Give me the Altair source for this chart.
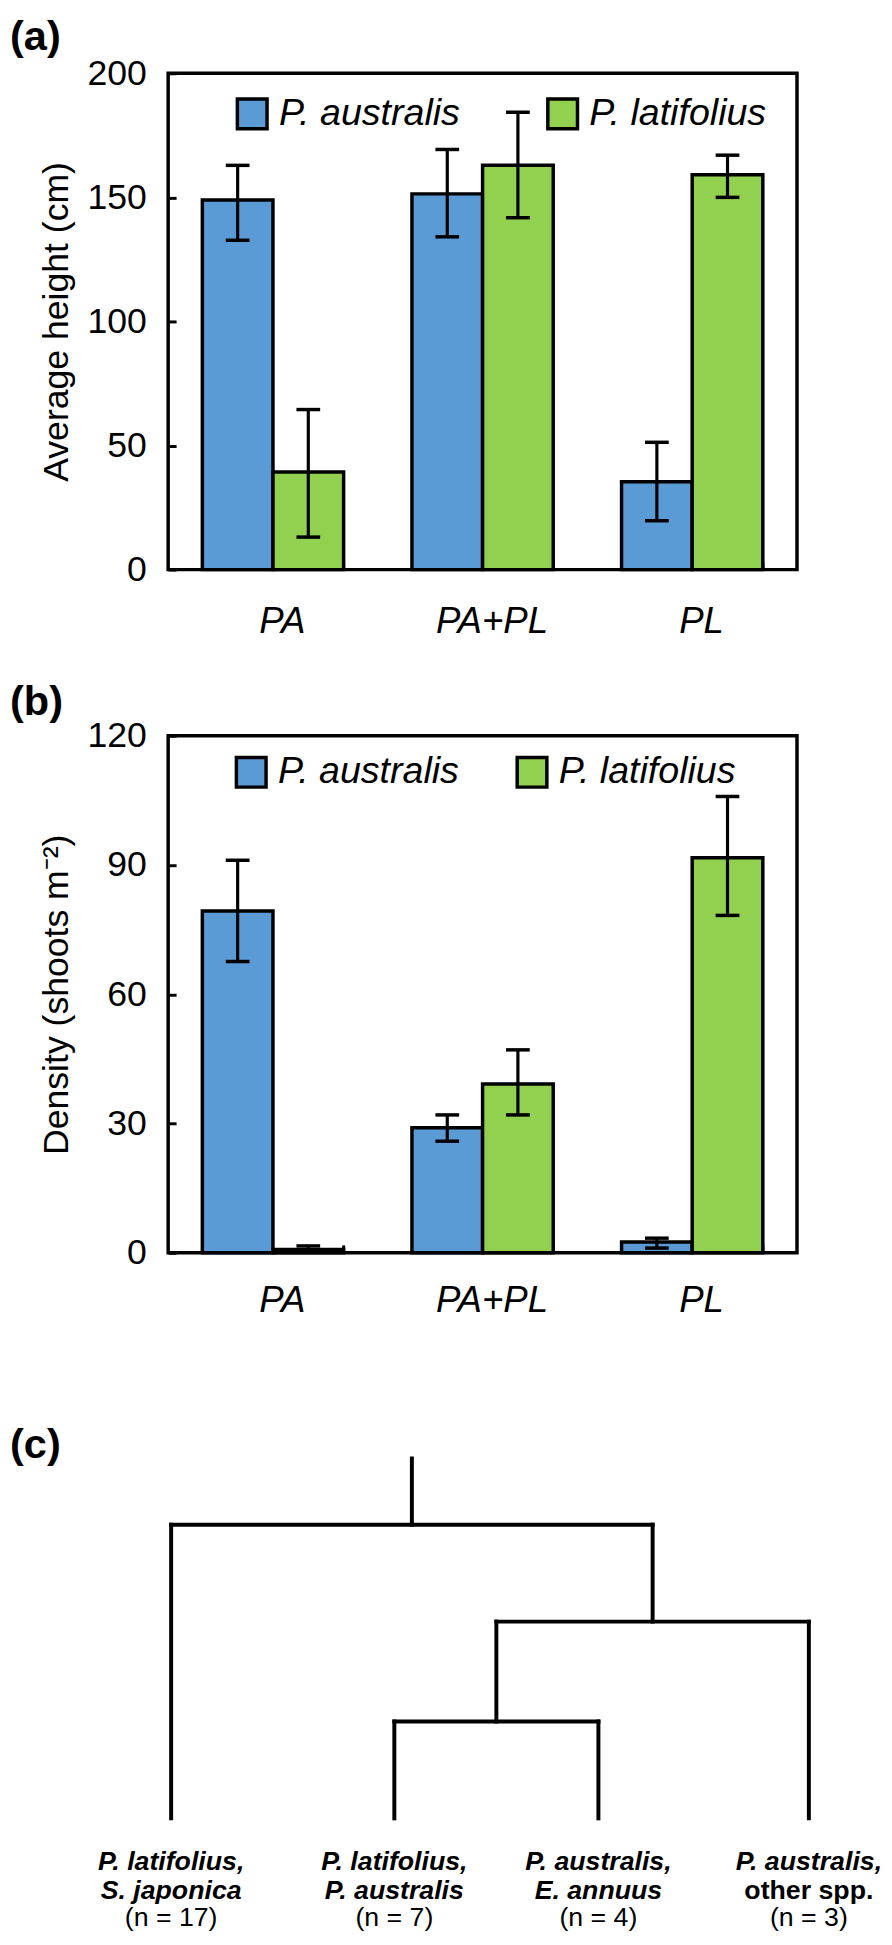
import altair as alt
import pandas as pd

FONT = "Liberation Sans"
BLUE = "#5B9BD5"
GREEN = "#92D050"

categories = ["PA", "PA+PL", "PL"]
species = ["P. australis", "P. latifolius"]

# (a) average height (cm): mean, lower and upper end of error bar
height_australis = [148.9, 151.4, 35.4]
height_australis_lo = [132.7, 134.1, 19.7]
height_australis_hi = [162.9, 169.3, 51.3]
height_latifolius = [39.3, 162.9, 159.1]
height_latifolius_lo = [13.1, 141.8, 150.0]
height_latifolius_hi = [64.5, 184.3, 167.0]

# (b) density (shoots m-2)
density_australis = [79.3, 29.0, 2.5]
density_australis_lo = [67.6, 25.9, 1.1]
density_australis_hi = [91.1, 32.0, 3.4]
density_latifolius = [0.8, 39.2, 91.7]
density_latifolius_lo = [0.2, 32.0, 78.3]
density_latifolius_hi = [1.6, 47.1, 105.9]

# (c) dendrogram
leaf_pos = [0.0, 1.05, 2.01, 3.0]
leaf_line1 = ["P. latifolius,", "P. latifolius,", "P. australis,", "P. australis,"]
leaf_line2 = ["S. japonica", "P. australis", "E. annuus", "other spp."]
leaf_line2_italic = [True, True, True, False]
leaf_n = ["(n = 17)", "(n = 7)", "(n = 4)", "(n = 3)"]
# merges: (node a, node b, height); leaves are nodes 0-3, merges become nodes 4, 5, 6
merges = [(1, 2, 0.98), (4, 3, 1.99), (0, 5, 2.97)]
root_top = 3.64


def bar_panel(mean_a, lo_a, hi_a, mean_l, lo_l, hi_l, ydomain, yvalues, ytitle,
              ptitle, toffset, legx, legy, colpad, xlabpad, width, height):
    rows = []
    for i, c in enumerate(categories):
        rows.append(dict(category=c, species=species[0], mean=mean_a[i], lo=lo_a[i], hi=hi_a[i]))
        rows.append(dict(category=c, species=species[1], mean=mean_l[i], lo=lo_l[i], hi=hi_l[i]))
    df = pd.DataFrame(rows)

    xaxis = alt.Axis(title=None, labelFontSize=37, labelFontStyle="italic", labelAngle=0,
                     labelColor="black", labelFont=FONT, tickBand="extent", tickSize=8,
                     tickWidth=3, tickColor="black", offset=-8, domain=False,
                     labelPadding=xlabpad, labelOffset=9)
    yaxis = alt.Axis(values=yvalues, labelFontSize=36, labelFont=FONT, labelColor="black",
                     tickColor="black", tickWidth=3, tickSize=8, offset=-8, domain=False,
                     labelPadding=22, grid=False, titleFontSize=36, titleFontWeight="normal",
                     titleFont=FONT, titleColor="black", titlePadding=12)
    x = alt.X("category:N", sort=categories,
              scale=alt.Scale(domain=categories, paddingInner=0.326, paddingOuter=0.163),
              axis=xaxis)
    xo = alt.XOffset("species:N", sort=species, scale=alt.Scale(domain=species))
    yscale = alt.Scale(domain=ydomain, nice=False)

    base = alt.Chart(df)
    bars = base.mark_bar(stroke="black", strokeWidth=3.5).encode(
        x=x, xOffset=xo,
        y=alt.Y("mean:Q", scale=yscale, axis=yaxis, title=ytitle),
        color=alt.Color("species:N", sort=species,
                        scale=alt.Scale(domain=species, range=[BLUE, GREEN]),
                        legend=alt.Legend(orient="none", legendX=legx, legendY=legy,
                                          direction="horizontal", title=None,
                                          symbolType="square", symbolSize=900,
                                          symbolStrokeWidth=3.5, symbolStrokeColor="black",
                                          symbolOpacity=1, labelFontSize=38,
                                          labelFontStyle="italic", labelFont=FONT,
                                          labelColor="black", columnPadding=colpad,
                                          labelOffset=8, padding=0, labelLimit=500)),
    )
    rules = base.mark_rule(color="black", strokeWidth=3.2).encode(
        x=x, xOffset=xo, y=alt.Y("lo:Q", scale=yscale, title=ytitle), y2="hi:Q")
    caps_hi = base.mark_tick(color="black", size=24, thickness=3.5, opacity=1).encode(
        x=x, xOffset=xo, y=alt.Y("hi:Q", scale=yscale, title=ytitle))
    caps_lo = base.mark_tick(color="black", size=24, thickness=3.5, opacity=1).encode(
        x=x, xOffset=xo, y=alt.Y("lo:Q", scale=yscale, title=ytitle))
    return alt.layer(bars, rules, caps_hi, caps_lo).properties(
        width=width, height=height,
        title=alt.TitleParams(ptitle, anchor="start", frame="group", dx=-160,
                              offset=toffset, fontSize=42, fontWeight="bold",
                              font=FONT, color="black"),
    )


panel_a = bar_panel(height_australis, height_australis_lo, height_australis_hi,
                    height_latifolius, height_latifolius_lo, height_latifolius_hi,
                    [0, 200], [0, 50, 100, 150, 200], "Average height (cm)",
                    "(a)", -3, 66, 22, 81, 35, 636, 502)
panel_b = bar_panel(density_australis, density_australis_lo, density_australis_hi,
                    density_latifolius, density_latifolius_lo, density_latifolius_hi,
                    [0, 120], [0, 30, 60, 90, 120], "Density (shoots m\u207b\u00b2)",
                    "(b)", -6, 65, 18, 51, 30, 636, 523)

# dendrogram segments
node_x = list(leaf_pos)
node_h = [0.0] * len(leaf_pos)
segs = []
for a, b, h in merges:
    xa, xb = node_x[a], node_x[b]
    segs.append(dict(x=xa, x2=xa, y=node_h[a], y2=h))
    segs.append(dict(x=xb, x2=xb, y=node_h[b], y2=h))
    segs.append(dict(x=xa, x2=xb, y=h, y2=h))
    node_x.append((xa + xb) / 2)
    node_h.append(h)
segs.append(dict(x=node_x[-1], x2=node_x[-1], y=node_h[-1], y2=root_top))
seg_df = pd.DataFrame(segs)

leaf_df = pd.DataFrame(dict(x=leaf_pos, y=[0.0] * 4, line1=leaf_line1, line2=leaf_line2,
                            italic=leaf_line2_italic, n=leaf_n))

C_H = 464
xs = alt.Scale(domain=[0, 3], range=[3, 648])
ys = alt.Scale(domain=[0, C_H / 100])

tree = alt.Chart(seg_df).mark_rule(color="black", strokeWidth=4, strokeCap="square").encode(
    x=alt.X("x:Q", scale=xs, axis=None), x2="x2:Q",
    y=alt.Y("y:Q", scale=ys, axis=None), y2="y2:Q")
lab_base = alt.Chart(leaf_df)
enc = dict(x=alt.X("x:Q", scale=xs, axis=None), y=alt.Y("y:Q", scale=ys, axis=None))
t1 = lab_base.mark_text(fontSize=27, fontWeight="bold", fontStyle="italic", font=FONT,
                        baseline="alphabetic", align="center", dy=52, color="black").encode(
    text="line1:N", **enc)
t2i = lab_base.transform_filter("datum.italic").mark_text(
    fontSize=27, fontWeight="bold", fontStyle="italic", font=FONT, baseline="alphabetic",
    align="center", dy=82, color="black").encode(text="line2:N", **enc)
t2n = lab_base.transform_filter("!datum.italic").mark_text(
    fontSize=27, fontWeight="bold", font=FONT, baseline="alphabetic",
    align="center", dy=82, color="black").encode(text="line2:N", **enc)
t3 = lab_base.mark_text(fontSize=27, font=FONT, baseline="alphabetic", align="center",
                        dy=109, color="black").encode(text="n:N", **enc)

panel_c = alt.layer(tree, t1, t2i, t2n, t3).properties(
    width=652, height=C_H,
    view=alt.ViewBackground(stroke="transparent"),
    title=alt.TitleParams("(c)", anchor="start", frame="group", dx=-160, offset=-109,
                          fontSize=42, fontWeight="bold", font=FONT, color="black"),
)

chart = alt.vconcat(panel_a, panel_b, panel_c, spacing=38).resolve_scale(
    color="independent"
).properties(
    padding={"left": 0, "top": -5, "right": 0, "bottom": -4}
).configure(font=FONT).configure_view(stroke="black", strokeWidth=3.5)

chart.save("out.html", embed_options={"renderer": "svg", "actions": False})
